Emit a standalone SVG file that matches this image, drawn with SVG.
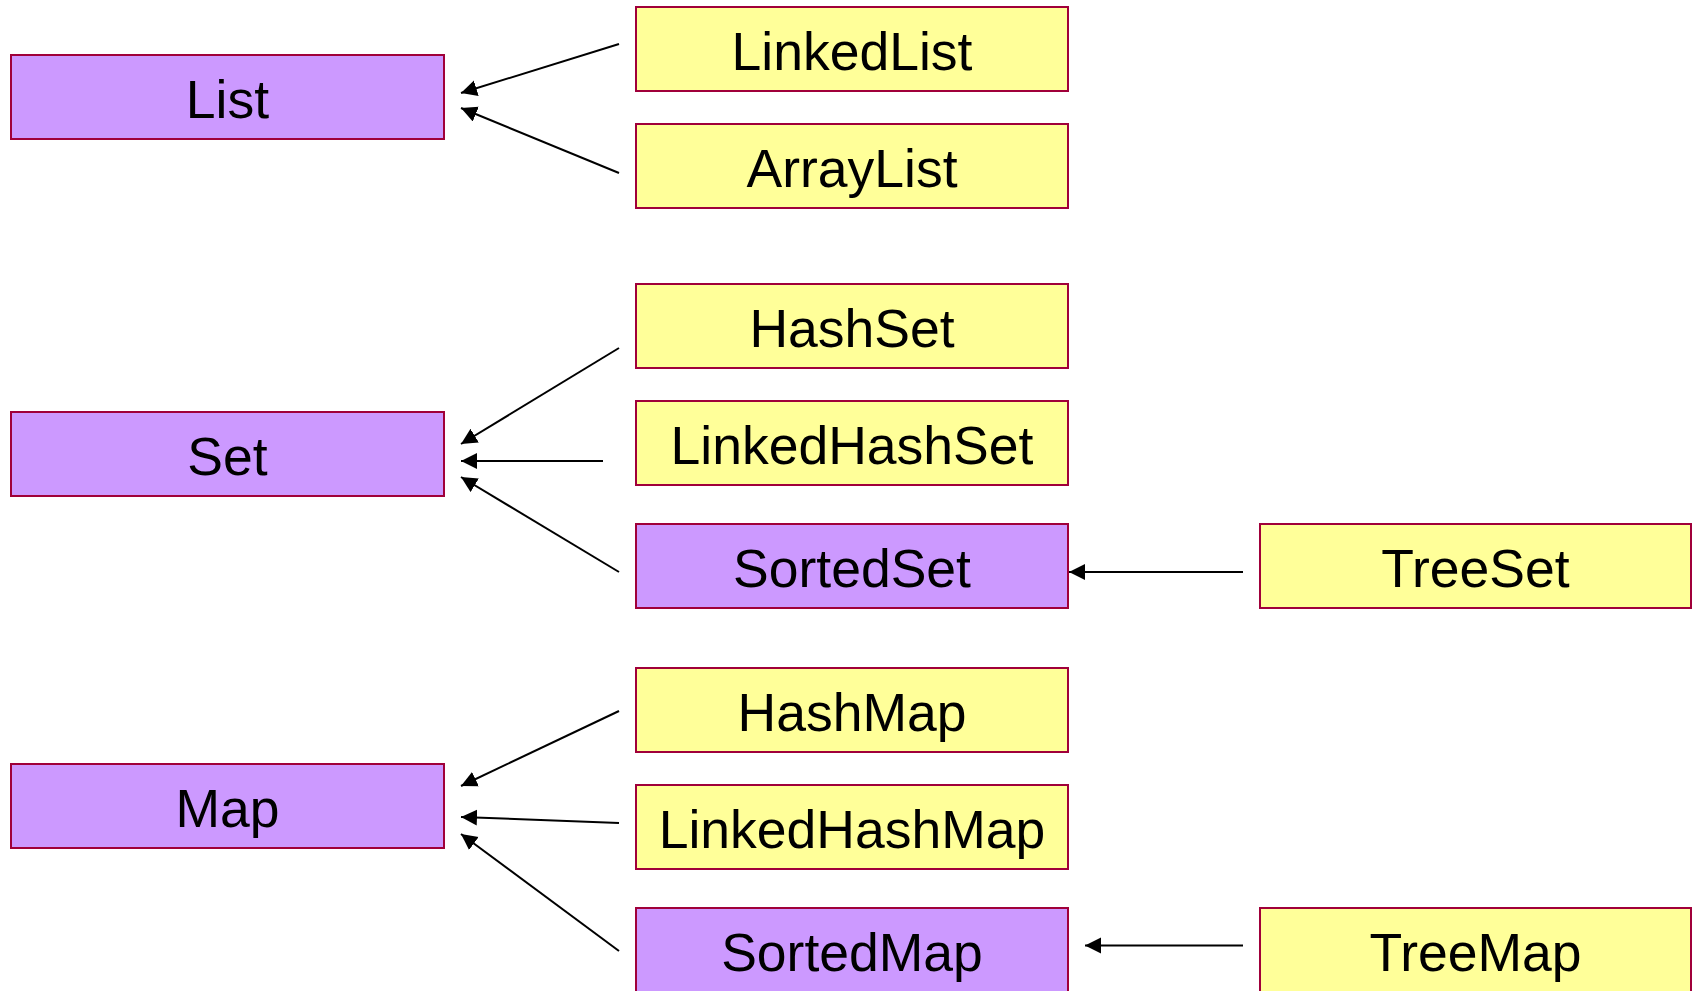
<svg xmlns="http://www.w3.org/2000/svg" width="1692" height="991" viewBox="0 0 1692 991">
<style>
.b{stroke:#A0003A;stroke-width:2}
.p{fill:#CC99FF}
.y{fill:#FFFF99}
text{font-family:"Liberation Sans",Arial,sans-serif;font-size:53.5px;fill:#000;text-anchor:middle}
.c line{stroke:#000;stroke-width:2;marker-end:url(#ah)}
</style>
<defs>
<marker id="ah" markerUnits="userSpaceOnUse" markerWidth="18" markerHeight="18" refX="16" refY="8" orient="auto">
<path d="M0,0 L16,8 L0,16 z" fill="#000"/>
</marker>
</defs>
<rect width="1692" height="991" fill="#fff"/>
<g id="List"><rect class="b p" x="11" y="55" width="433" height="84"/><text x="227.5" y="118">List</text></g>
<g id="LinkedList"><rect class="b y" x="636" y="7" width="432" height="84"/><text x="852" y="70">LinkedList</text></g>
<g id="ArrayList"><rect class="b y" x="636" y="124" width="432" height="84"/><text x="852" y="187">ArrayList</text></g>
<g id="HashSet"><rect class="b y" x="636" y="284" width="432" height="84"/><text x="852" y="347">HashSet</text></g>
<g id="LinkedHashSet"><rect class="b y" x="636" y="401" width="432" height="84"/><text x="852" y="464">LinkedHashSet</text></g>
<g id="Set"><rect class="b p" x="11" y="412" width="433" height="84"/><text x="227.5" y="475">Set</text></g>
<g id="SortedSet"><rect class="b p" x="636" y="524" width="432" height="84"/><text x="852" y="587">SortedSet</text></g>
<g id="TreeSet"><rect class="b y" x="1260" y="524" width="431" height="84"/><text x="1475.5" y="587">TreeSet</text></g>
<g id="HashMap"><rect class="b y" x="636" y="668" width="432" height="84"/><text x="852" y="731">HashMap</text></g>
<g id="LinkedHashMap"><rect class="b y" x="636" y="785" width="432" height="84"/><text x="852" y="848">LinkedHashMap</text></g>
<g id="Map"><rect class="b p" x="11" y="764" width="433" height="84"/><text x="227.5" y="827">Map</text></g>
<g id="SortedMap"><rect class="b p" x="636" y="908" width="432" height="84"/><text x="852" y="971">SortedMap</text></g>
<g id="TreeMap"><rect class="b y" x="1260" y="908" width="431" height="84"/><text x="1475.5" y="971">TreeMap</text></g>
<g id="connectors" class="c">
<line x1="619" y1="44" x2="461" y2="93"/>
<line x1="619" y1="173" x2="461" y2="108"/>
<line x1="619" y1="348" x2="461" y2="444"/>
<line x1="603" y1="461" x2="461" y2="461"/>
<line x1="619" y1="572" x2="461" y2="477"/>
<line x1="1243" y1="572" x2="1069" y2="572"/>
<line x1="619" y1="711" x2="461" y2="786"/>
<line x1="619" y1="823" x2="461" y2="817"/>
<line x1="619" y1="951" x2="461" y2="834"/>
<line x1="1243" y1="945.5" x2="1085" y2="945.5"/>
</g>
</svg>
